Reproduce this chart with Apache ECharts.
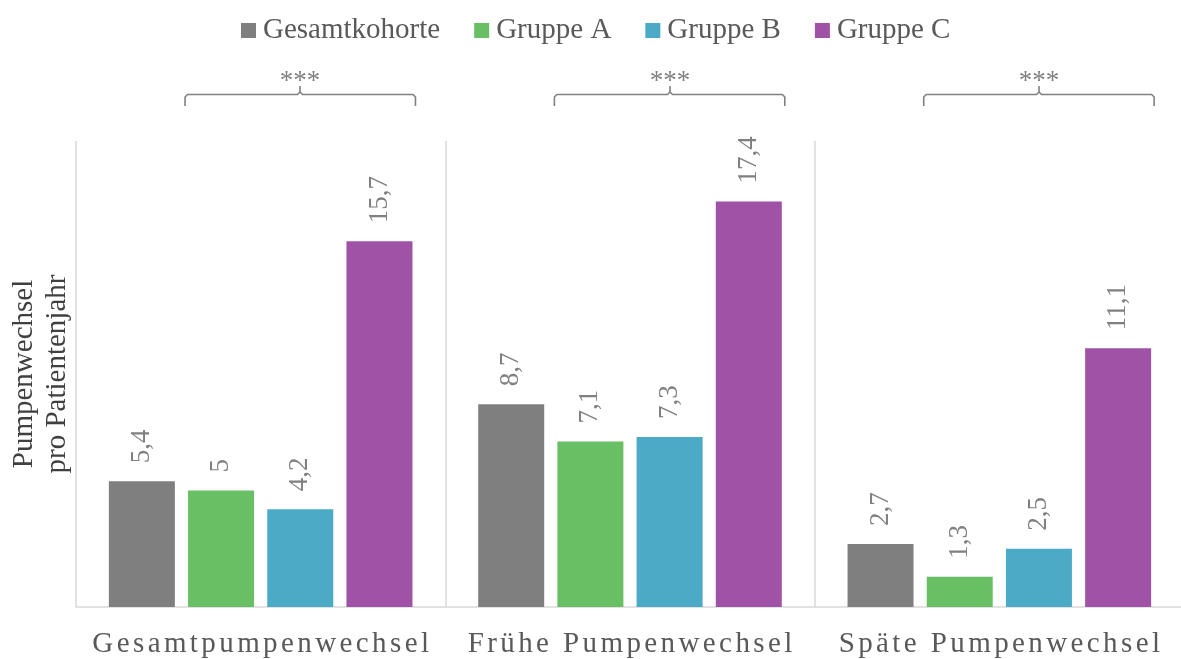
<!DOCTYPE html>
<html>
<head>
<meta charset="utf-8">
<title>Pumpenwechsel pro Patientenjahr</title>
<script src="https://cdn.jsdelivr.net/npm/echarts@6/dist/echarts.min.js"></script>
<style>
  html, body { margin: 0; padding: 0; background: #fff; overflow: hidden; }
  #chart { width: 1181px; height: 659px; }
</style>
</head>
<body>
<div id="chart"></div>
<script>
// Daten
const categories = ['Gesamtpumpenwechsel', 'Frühe Pumpenwechsel', 'Späte Pumpenwechsel']
const seriesNames = ['Gesamtkohorte', 'Gruppe A', 'Gruppe B', 'Gruppe C']
const gesamtkohorte = [5.4, 8.7, 2.7]
const gruppeA = [5.0, 7.1, 1.3]
const gruppeB = [4.2, 7.3, 2.5]
const gruppeC = [15.7, 17.4, 11.1]
const significance = ['***', '***', '***']

const colors = ['#7f7f7f', '#69bf63', '#4babc6', '#9f52a6']
const font = '"Liberation Serif", "Times New Roman", serif'
// Excel-artige Sperrung nachbilden
const spacedRich = s => s.split('').join('{s|\u2009}')

const chart = echarts.init(document.getElementById('chart'))

const seriesData = [gesamtkohorte, gruppeA, gruppeB, gruppeC]

chart.setOption({
  animation: false,
  color: colors,
  textStyle: { fontFamily: font },
  legend: {
    top: 11,
    left: 236,
    icon: 'rect',
    itemWidth: 15,
    itemHeight: 15,
    itemGap: 34,
    data: seriesNames,
    textStyle: { fontFamily: font, fontSize: 29, color: '#595959', padding: [0, 0, 0, 2] }
  },
  grid: {
    left: 76,
    top: 141,
    width: 1108,
    bottom: 52,
    containLabel: false,
    outerBoundsMode: 'none'
  },
  xAxis: {
    type: 'category',
    data: categories,
    axisLine: { lineStyle: { color: '#d9d9d9', width: 1.5 } },
    axisTick: { show: false },
    splitLine: {
      show: true,
      interval: 0,
      // letzte Trennlinie (rechter Rand) ausblenden
      lineStyle: { color: ['#d9d9d9', '#d9d9d9', '#d9d9d9', 'rgba(0,0,0,0)'], width: 1.5 }
    },
    axisLabel: {
      margin: 23,
      interval: 0,
      fontFamily: font,
      fontSize: 29,
      color: '#595959',
      formatter: v => spacedRich(v),
      rich: {
        s: { fontSize: 17 }
      }
    }
  },
  yAxis: {
    type: 'value',
    min: 0,
    max: 20,
    name: 'Pumpenwechsel\npro Patientenjahr',
    nameLocation: 'middle',
    nameGap: 2,
    nameTextStyle: { fontFamily: font, fontSize: 29, color: '#404040', lineHeight: 33 },
    axisLine: { show: false },
    axisTick: { show: false },
    axisLabel: { show: false },
    splitLine: { show: false }
  },
  series: seriesNames.map((name, i) => ({
    name: name,
    type: 'bar',
    data: seriesData[i],
    barWidth: 66,
    barGap: '20%',
    label: {
      show: true,
      position: 'top',
      rotate: 90,
      align: 'left',
      verticalAlign: 'middle',
      distance: 18,
      fontFamily: font,
      fontSize: 27,
      color: '#808080',
      formatter: p => String(p.value).replace('.', ',')
    }
  }))
})

// Klammern über Gruppe A bis Gruppe C
function drawBrackets() {
  const model = chart.getModel()
  const dataA = model.getSeriesByIndex(1).getData()
  const dataC = model.getSeriesByIndex(3).getData()
  const yLine = 94.5
  const yEnd = 106
  const yTick = 86
  const r = 2.5
  const lineStyle = { fill: null, stroke: '#808080', lineWidth: 1.6, lineJoin: 'round' }
  const graphics = []
  categories.forEach((c, j) => {
    const la = dataA.getItemLayout(j)
    const lc = dataC.getItemLayout(j)
    const x1 = la.x - 3
    const x2 = lc.x + lc.width + 3
    const cx = Math.round((x1 + x2) / 2)
    graphics.push({
      type: 'polyline',
      shape: { points: [[x1, yEnd], [x1, yLine + r], [x1 + r, yLine], [cx - r, yLine], [cx, yLine - r], [cx, yTick]] },
      style: lineStyle
    })
    graphics.push({
      type: 'polyline',
      shape: { points: [[cx, yLine - r], [cx + r, yLine], [x2 - r, yLine], [x2, yLine + r], [x2, yEnd]] },
      style: lineStyle
    })
    graphics.push({
      type: 'text',
      x: cx,
      y: 82,
      style: {
        text: significance[j],
        fill: '#808080',
        font: '27px ' + font,
        align: 'center',
        verticalAlign: 'middle'
      }
    })
  })
  chart.setOption({ graphic: graphics })
}
drawBrackets()
</script>
</body>
</html>
